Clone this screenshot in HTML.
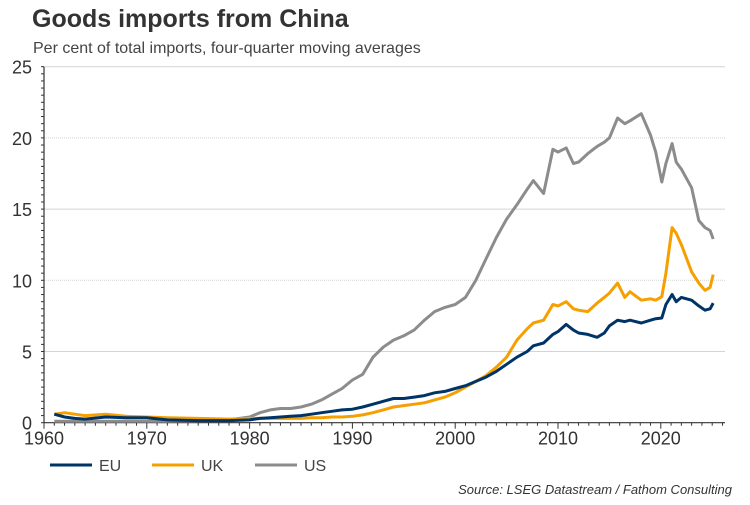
<!DOCTYPE html>
<html><head><meta charset="utf-8"><style>
body{margin:0;background:#fff;font-family:"Liberation Sans",Arial,sans-serif;}
svg text{font-family:"Liberation Sans",Arial,sans-serif;}
</style></head><body>
<svg id="chart" width="750" height="500" xmlns="http://www.w3.org/2000/svg">
<text x="32" y="27" font-size="25" font-weight="bold" fill="#333">Goods imports from China</text>
<text x="33" y="53" font-size="16" fill="#444">Per cent of total imports, four-quarter moving averages</text>
<g id="grid"></g>
<g id="axes"></g>
<g id="series"></g>
<g>
<line x1="50" y1="465" x2="92" y2="465" stroke="#003366" stroke-width="3"/>
<text x="99" y="471" font-size="16" fill="#444">EU</text>
<line x1="152" y1="465" x2="194" y2="465" stroke="#f5a000" stroke-width="3"/>
<text x="201" y="471" font-size="16" fill="#444">UK</text>
<line x1="255" y1="465" x2="297" y2="465" stroke="#8c8c8c" stroke-width="3"/>
<text x="304" y="471" font-size="16" fill="#444">US</text>
</g>
<text x="732" y="494" font-size="13" font-style="italic" fill="#333" text-anchor="end">Source: LSEG Datastream / Fathom Consulting</text>
</svg>
<script>
const years=[1961,1962,1963,1964,1966,1968,1970,1972,1975,1978,1980,1981,1982,1983,1984,1985,1986,1987,1988,1989,1990,1991,1992,1993,1994,1995,1996,1997,1998,1999,2000,2001,2002,2003,2004,2005,2006,2007,2007.6,2008.6,2009.5,2010,2010.8,2011.5,2012,2012.9,2013.8,2014.5,2015,2015.8,2016.5,2017,2018.1,2019,2019.5,2020.1,2020.5,2021.1,2021.5,2022,2023,2023.7,2024.3,2024.8,2025.1];
const euValues=[0.6,0.4,0.3,0.25,0.4,0.35,0.35,0.2,0.15,0.15,0.2,0.3,0.35,0.4,0.45,0.5,0.6,0.7,0.8,0.9,0.95,1.1,1.3,1.5,1.7,1.7,1.8,1.9,2.1,2.2,2.4,2.6,2.9,3.2,3.6,4.1,4.6,5.0,5.4,5.6,6.2,6.4,6.9,6.5,6.3,6.2,6.0,6.3,6.8,7.2,7.1,7.2,7.0,7.2,7.3,7.35,8.3,9.0,8.5,8.8,8.6,8.2,7.9,8.0,8.4];
const ukValues=[0.6,0.7,0.6,0.5,0.6,0.45,0.4,0.35,0.3,0.25,0.3,0.3,0.3,0.3,0.3,0.3,0.35,0.35,0.4,0.4,0.45,0.55,0.7,0.9,1.1,1.2,1.3,1.4,1.6,1.8,2.1,2.5,2.9,3.3,3.9,4.6,5.8,6.6,7.0,7.2,8.3,8.2,8.5,8.0,7.9,7.8,8.4,8.8,9.1,9.8,8.8,9.2,8.6,8.7,8.6,8.85,10.5,13.7,13.3,12.5,10.6,9.8,9.3,9.5,10.4];
const usValues=[0.1,0.1,0.1,0.1,0.1,0.1,0.1,0.1,0.15,0.2,0.4,0.7,0.9,1.0,1.0,1.1,1.3,1.6,2.0,2.4,3.0,3.4,4.6,5.3,5.8,6.1,6.5,7.2,7.8,8.1,8.3,8.8,10.0,11.5,13.0,14.3,15.3,16.4,17.0,16.1,19.2,19.0,19.3,18.2,18.3,18.9,19.4,19.7,20.0,21.4,21.0,21.2,21.7,20.2,19.0,16.9,18.2,19.6,18.3,17.8,16.5,14.2,13.7,13.5,12.9];
const yTicks=[0,5,10,15,20,25];
const xTicks=[1960,1970,1980,1990,2000,2010,2020];
const X0=44,X1=725,Y0=422.7,Y25=66.7;
function xs(yr){return X0+(yr-1960)*10.28;}
function ys(v){return Y0-(v/25)*(Y0-Y25);}
const NS="http://www.w3.org/2000/svg";
function mk(t,a,p){const e=document.createElementNS(NS,t);for(const k in a)e.setAttribute(k,a[k]);p.appendChild(e);return e;}
const grid=document.getElementById('grid'),axes=document.getElementById('axes'),ser=document.getElementById('series');
yTicks.forEach(v=>{
 if(v>0){const g=mk('line',{x1:X0,x2:X1,y1:ys(v),y2:ys(v),stroke:'#d4d4d4','stroke-width':1,'stroke-dasharray':(v%10==0)?'1,1':'none'},grid);
 
 }
 const t=mk('text',{x:32,y:ys(v)+7,'font-size':18,fill:'#333','text-anchor':'end'},axes);t.textContent=v;
 
 
});
for(let v=0;v<=25;v+=0.5){mk('line',{x1:X0-3,x2:X0,y1:ys(v),y2:ys(v),stroke:'#333','stroke-width':1},axes);}
for(let yr=1960;yr<=2026;yr++){mk('line',{x1:xs(yr),x2:xs(yr),y1:Y0,y2:Y0+(yr%10==0?6:3),stroke:'#333','stroke-width':1},axes);}
xTicks.forEach(yr=>{const t=mk('text',{x:xs(yr),y:Y0+22,'font-size':18,fill:'#333','text-anchor':'middle'},axes);t.textContent=yr;
 
 });
const ya=mk('line',{x1:X0,x2:X0,y1:Y25,y2:Y0,stroke:'#333','stroke-width':1.2},axes);


const xa=mk('line',{x1:X0,x2:X1,y1:Y0,y2:Y0,stroke:'#333','stroke-width':1.2},axes);


function line(vals,color,name){const d=vals.map((v,i)=>(i?'L':'M')+xs(years[i]).toFixed(1)+','+ys(v).toFixed(1)).join(' ');
 const p=mk('path',{d:d,fill:'none',stroke:color,'stroke-width':3,'stroke-linejoin':'round'},ser);
 
 }
line(usValues,'#8c8c8c','us-line');
line(ukValues,'#f5a000','uk-line');
line(euValues,'#003366','eu-line');
</script>
</body></html>
